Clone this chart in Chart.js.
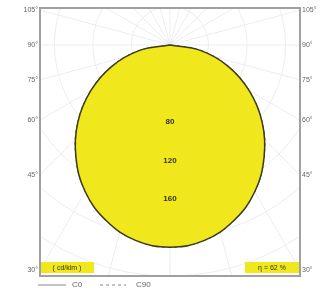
<!DOCTYPE html>
<html lang="en">
<head>
  <meta charset="UTF-8">
  <title>Light distribution curve</title>
  <style>
    body { margin: 0; padding: 0; background: #fff; }
    #wrap { width: 322px; height: 293px; position: relative; }
  </style>
</head>
<body>
  <div id="wrap"><canvas id="ldc" width="322" height="293"></canvas></div>

  <script src="https://cdn.jsdelivr.net/npm/chart.js"></script>
  <script>
    // gamma angles (deg from nadir) and intensities in cd/klm
    const gamma = [0, 10, 20, 30, 40, 50, 60, 70, 80, 90];
    const c0    = [210, 206, 194, 176, 152, 125, 95, 64, 32, 0];   // C0 - C180 plane
    const c90   = [210, 206, 194, 176, 152, 125, 95, 64, 32, 0];   // C90 - C270 plane

    const ringValues  = [40, 80, 120, 160, 200, 240, 280];
    const ringLabels  = [80, 120, 160];
    const angleLabels = [105, 90, 75, 60, 45, 30];
    const unitLabel = '( cd/klm )';
    const effLabel  = 'η = 62 %';

    // polar (gamma, I) -> x/y in cd/klm, mirrored to both halves of the plane
    function planePoints(vals) {
      const pts = [];
      for (let i = gamma.length - 1; i >= 0; i--) {
        const t = -gamma[i] * Math.PI / 180;
        pts.push({ x: vals[i] * Math.sin(t), y: -vals[i] * Math.cos(t) });
      }
      for (let i = 1; i < gamma.length; i++) {
        const t = gamma[i] * Math.PI / 180;
        pts.push({ x: vals[i] * Math.sin(t), y: -vals[i] * Math.cos(t) });
      }
      return pts;
    }

    const FONT = '"Liberation Sans", Arial, sans-serif';

    const ldcGrid = {
      id: 'ldcGrid',
      beforeDatasetsDraw(chart) {
        const { ctx, chartArea: a, scales: { x, y } } = chart;
        const cx = x.getPixelForValue(0), cy = y.getPixelForValue(0);
        const k = x.getPixelForValue(1) - cx;
        ctx.save();
        ctx.beginPath();
        ctx.rect(a.left, a.top, a.width, a.height);
        ctx.clip();
        ctx.strokeStyle = '#ebedf2';
        ctx.lineWidth = 1;
        ringValues.forEach(r => {
          ctx.beginPath();
          ctx.arc(cx, cy, r * k, 0, 2 * Math.PI);
          ctx.stroke();
        });
        for (let g = 0; g < 360; g += 15) {
          const t = g * Math.PI / 180;
          ctx.beginPath();
          ctx.moveTo(cx, cy);
          ctx.lineTo(cx + Math.sin(t) * 600, cy + Math.cos(t) * 600);
          ctx.stroke();
        }
        ctx.restore();
      },
      afterDatasetsDraw(chart) {
        const { ctx, chartArea: a, scales: { x, y } } = chart;
        const cx = x.getPixelForValue(0);
        ctx.save();

        // ring values on the vertical axis
        ctx.fillStyle = '#35330e';
        ctx.font = 'bold 8px ' + FONT;
        ctx.textAlign = 'center';
        ctx.textBaseline = 'middle';
        ringLabels.forEach(r => ctx.fillText(String(r), cx, y.getPixelForValue(-r)));

        // frame
        ctx.strokeStyle = '#a0a0a0';
        ctx.lineWidth = 2;
        ctx.strokeRect(a.left, a.top, a.width, a.height);

        // angle labels where the spokes meet the frame sides
        ctx.fillStyle = '#666';
        ctx.font = '7px ' + FONT;
        angleLabels.forEach(g => {
          const t = g * Math.PI / 180;
          const v = g === 90 ? 0 : -x.max / Math.tan(t);
          const py = y.getPixelForValue(v);
          ctx.textAlign = 'right';
          ctx.fillText(g + '°', a.left - 2, py);
          ctx.textAlign = 'left';
          ctx.fillText(g + '°', a.right + 2, py);
        });

        // unit and efficiency boxes
        ctx.font = '7px ' + FONT;
        ctx.fillStyle = '#f0e71c';
        ctx.fillRect(a.left + 1, a.bottom - 14, 53, 11);
        ctx.fillRect(a.right - 55, a.bottom - 14, 54, 11);
        ctx.fillStyle = '#35330e';
        ctx.textAlign = 'center';
        ctx.fillText(unitLabel, a.left + 27, a.bottom - 8);
        ctx.fillText(effLabel, a.right - 28, a.bottom - 8);

        // legend
        const ly = a.bottom + 9;
        ctx.strokeStyle = '#888';
        ctx.lineWidth = 1;
        ctx.beginPath(); ctx.moveTo(38, ly); ctx.lineTo(66, ly); ctx.stroke();
        ctx.setLineDash([3, 3]);
        ctx.beginPath(); ctx.moveTo(100, ly); ctx.lineTo(126, ly); ctx.stroke();
        ctx.setLineDash([]);
        ctx.fillStyle = '#666';
        ctx.textAlign = 'left';
        ctx.font = '8px ' + FONT;
        ctx.fillText(chart.data.datasets[0].label, 72, ly);
        ctx.fillText(chart.data.datasets[1].label, 136, ly);
        ctx.restore();
      }
    };

    new Chart(document.getElementById('ldc'), {
      type: 'scatter',
      data: {
        datasets: [
          {
            label: 'C0',
            data: planePoints(c0),
            showLine: true,
            fill: 'shape',
            backgroundColor: '#f0e71c',
            borderColor: '#3c3a1a',
            borderWidth: 1.5,
            pointRadius: 0,
            tension: 0.4
          },
          {
            label: 'C90',
            data: planePoints(c90),
            showLine: true,
            fill: false,
            borderColor: '#3c3a1a',
            borderWidth: 1,
            borderDash: [3, 3],
            pointRadius: 0,
            tension: 0.4
          }
        ]
      },
      options: {
        responsive: false,
        animation: false,
        layout: { padding: { left: 40, right: 22, top: 8, bottom: 17 } },
        plugins: { legend: { display: false }, tooltip: { enabled: false } },
        scales: {
          x: { type: 'linear', min: -135, max: 135, display: false },
          y: { type: 'linear', min: -239.9, max: 38.4, display: false }
        }
      },
      plugins: [ldcGrid]
    });
  </script>
</body>
</html>
